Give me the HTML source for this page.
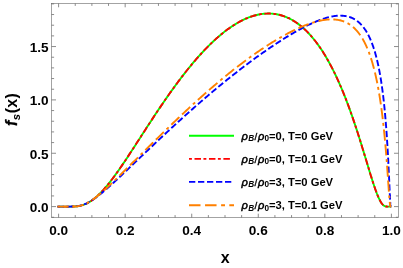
<!DOCTYPE html>
<html><head><meta charset="utf-8">
<style>
html,body{margin:0;padding:0;background:#fff;}
svg{display:block;will-change:transform;opacity:0.999;font-family:"Liberation Sans",sans-serif;}
.tk{font-size:13.6px;font-weight:bold;fill:#000;}
.lg{font-size:11.2px;font-weight:bold;fill:#000;}
.bi{font-style:italic;font-weight:bold;}
.rho{font-style:italic;font-weight:normal;stroke:#000;stroke-width:0.5;font-size:11.1px;}
.sl{font-size:9.8px;font-weight:normal;stroke:#000;stroke-width:0.35;}
.mn{stroke:none;}
.i{font-style:italic;}
.sub{font-size:8.2px;font-weight:bold;}
.ax{font-size:16px;font-weight:bold;fill:#000;}
.fr line{stroke:#666;stroke-width:0.75;}
.cv path, .cv line{fill:none;stroke-width:1.9;}
</style></head>
<body>
<svg width="403" height="268" viewBox="0 0 403 268">
<rect width="403" height="268" fill="#fff"/>
<g class="cv">
<path d="M57.5 206.6 L58.40 206.60 L59.40 206.60 L60.40 206.60 L61.41 206.60 L62.41 206.60 L63.41 206.60 L64.41 206.60 L65.41 206.60 L66.41 206.60 L67.42 206.60 L68.42 206.60 L69.42 206.60 L70.42 206.59 L71.42 206.58 L72.42 206.56 L73.43 206.52 L74.43 206.48 L75.43 206.41 L76.43 206.32 L77.43 206.21 L78.43 206.07 L79.44 205.90 L80.44 205.69 L81.44 205.45 L82.44 205.16 L83.44 204.84 L84.45 204.48 L85.45 204.07 L86.45 203.62 L87.45 203.13 L88.45 202.59 L89.45 202.01 L90.46 201.39 L91.46 200.73 L92.46 200.02 L93.46 199.28 L94.46 198.49 L95.46 197.66 L96.47 196.80 L97.47 195.90 L98.47 194.96 L99.47 193.99 L100.47 192.98 L101.47 191.94 L102.48 190.87 L103.48 189.77 L104.48 188.64 L105.48 187.49 L106.48 186.30 L107.49 185.09 L108.49 183.86 L109.49 182.60 L110.49 181.33 L111.49 180.03 L112.49 178.71 L113.50 177.37 L114.50 176.01 L115.50 174.64 L116.50 173.25 L117.50 171.85 L118.50 170.43 L119.51 169.00 L120.51 167.55 L121.51 166.10 L122.51 164.63 L123.51 163.15 L124.51 161.67 L125.52 160.17 L126.52 158.67 L127.52 157.16 L128.52 155.64 L129.52 154.12 L130.53 152.59 L131.53 151.06 L132.53 149.52 L133.53 147.98 L134.53 146.44 L135.53 144.90 L136.54 143.35 L137.54 141.80 L138.54 140.25 L139.54 138.70 L140.54 137.14 L141.54 135.59 L142.55 134.04 L143.55 132.49 L144.55 130.94 L145.55 129.40 L146.55 127.85 L147.55 126.31 L148.56 124.77 L149.56 123.23 L150.56 121.70 L151.56 120.17 L152.56 118.64 L153.57 117.12 L154.57 115.60 L155.57 114.09 L156.57 112.59 L157.57 111.08 L158.57 109.59 L159.58 108.10 L160.58 106.61 L161.58 105.13 L162.58 103.66 L163.58 102.20 L164.58 100.74 L165.59 99.29 L166.59 97.85 L167.59 96.41 L168.59 94.98 L169.59 93.56 L170.59 92.15 L171.60 90.74 L172.60 89.35 L173.60 87.96 L174.60 86.58 L175.60 85.21 L176.61 83.85 L177.61 82.50 L178.61 81.16 L179.61 79.82 L180.61 78.50 L181.61 77.18 L182.62 75.88 L183.62 74.59 L184.62 73.30 L185.62 72.03 L186.62 70.77 L187.62 69.51 L188.63 68.27 L189.63 67.04 L190.63 65.82 L191.63 64.61 L192.63 63.41 L193.63 62.22 L194.64 61.05 L195.64 59.88 L196.64 58.73 L197.64 57.59 L198.64 56.46 L199.65 55.34 L200.65 54.24 L201.65 53.14 L202.65 52.06 L203.65 50.99 L204.65 49.94 L205.66 48.89 L206.66 47.86 L207.66 46.84 L208.66 45.84 L209.66 44.85 L210.66 43.87 L211.67 42.90 L212.67 41.95 L213.67 41.01 L214.67 40.08 L215.67 39.17 L216.67 38.27 L217.68 37.39 L218.68 36.52 L219.68 35.66 L220.68 34.82 L221.68 33.99 L222.69 33.18 L223.69 32.38 L224.69 31.59 L225.69 30.82 L226.69 30.07 L227.69 29.33 L228.70 28.61 L229.70 27.90 L230.70 27.20 L231.70 26.52 L232.70 25.86 L233.70 25.21 L234.71 24.58 L235.71 23.97 L236.71 23.37 L237.71 22.78 L238.71 22.22 L239.71 21.67 L240.72 21.13 L241.72 20.62 L242.72 20.12 L243.72 19.63 L244.72 19.17 L245.73 18.72 L246.73 18.29 L247.73 17.88 L248.73 17.48 L249.73 17.10 L250.73 16.74 L251.74 16.40 L252.74 16.08 L253.74 15.77 L254.74 15.49 L255.74 15.22 L256.74 14.97 L257.75 14.74 L258.75 14.53 L259.75 14.34 L260.75 14.17 L261.75 14.02 L262.75 13.89 L263.76 13.78 L264.76 13.69 L265.76 13.63 L266.76 13.58 L267.76 13.55 L268.77 13.55 L269.77 13.56 L270.77 13.60 L271.77 13.66 L272.77 13.74 L273.77 13.84 L274.78 13.97 L275.78 14.12 L276.78 14.29 L277.78 14.48 L278.78 14.70 L279.78 14.94 L280.79 15.21 L281.79 15.50 L282.79 15.81 L283.79 16.15 L284.79 16.52 L285.79 16.90 L286.80 17.32 L287.80 17.76 L288.80 18.23 L289.80 18.72 L290.80 19.24 L291.81 19.78 L292.81 20.36 L293.81 20.96 L294.81 21.58 L295.81 22.24 L296.81 22.92 L297.82 23.64 L298.82 24.38 L299.82 25.15 L300.82 25.95 L301.82 26.78 L302.82 27.65 L303.83 28.54 L304.83 29.46 L305.83 30.42 L306.83 31.40 L307.83 32.42 L308.83 33.48 L309.84 34.56 L310.84 35.68 L311.84 36.83 L312.84 38.02 L313.84 39.24 L314.85 40.49 L315.85 41.78 L316.85 43.11 L317.85 44.47 L318.85 45.87 L319.85 47.31 L320.86 48.79 L321.86 50.30 L322.86 51.85 L323.86 53.44 L324.86 55.07 L325.86 56.74 L326.87 58.45 L327.87 60.20 L328.87 61.99 L329.87 63.83 L330.87 65.70 L331.87 67.62 L332.88 69.58 L333.88 71.59 L334.88 73.64 L335.88 75.73 L336.88 77.87 L337.89 80.06 L338.89 82.29 L339.89 84.56 L340.89 86.89 L341.89 89.25 L342.89 91.67 L343.90 94.13 L344.90 96.64 L345.90 99.20 L346.90 101.81 L347.90 104.46 L348.90 107.16 L349.91 109.91 L350.91 112.70 L351.91 115.54 L352.91 118.43 L353.91 121.36 L354.91 124.34 L355.92 127.36 L356.92 130.42 L357.92 133.52 L358.07 133.99 L358.22 134.46 L358.37 134.93 L358.52 135.40 L358.67 135.88 L358.82 136.35 L358.97 136.82 L359.12 137.30 L359.27 137.78 L359.43 138.25 L359.58 138.73 L359.73 139.21 L359.88 139.69 L360.03 140.17 L360.18 140.65 L360.33 141.13 L360.48 141.61 L360.63 142.10 L360.78 142.58 L360.93 143.06 L361.08 143.55 L361.23 144.03 L361.38 144.52 L361.53 145.01 L361.68 145.49 L361.83 145.98 L361.98 146.47 L362.13 146.96 L362.28 147.45 L362.44 147.94 L362.59 148.43 L362.74 148.92 L362.89 149.42 L363.04 149.91 L363.19 150.40 L363.34 150.89 L363.49 151.39 L363.64 151.88 L363.79 152.38 L363.94 152.87 L364.09 153.37 L364.24 153.86 L364.39 154.36 L364.54 154.86 L364.69 155.35 L364.84 155.85 L364.99 156.35 L365.14 156.85 L365.30 157.34 L365.45 157.84 L365.60 158.34 L365.75 158.84 L365.90 159.34 L366.05 159.84 L366.20 160.33 L366.35 160.83 L366.50 161.33 L366.65 161.83 L366.80 162.33 L366.95 162.83 L367.10 163.33 L367.25 163.83 L367.40 164.32 L367.55 164.82 L367.70 165.32 L367.85 165.82 L368.00 166.31 L368.15 166.81 L368.31 167.31 L368.46 167.80 L368.61 168.30 L368.76 168.80 L368.91 169.29 L369.06 169.79 L369.21 170.28 L369.36 170.77 L369.51 171.27 L369.66 171.76 L369.81 172.25 L369.96 172.74 L370.11 173.23 L370.26 173.72 L370.41 174.21 L370.56 174.69 L370.71 175.18 L370.86 175.66 L371.01 176.15 L371.17 176.63 L371.32 177.11 L371.47 177.59 L371.62 178.07 L371.77 178.55 L371.92 179.02 L372.07 179.50 L372.22 179.97 L372.37 180.44 L372.52 180.91 L372.67 181.38 L372.82 181.85 L372.97 182.31 L373.12 182.78 L373.27 183.24 L373.42 183.69 L373.57 184.15 L373.72 184.61 L373.87 185.06 L374.02 185.51 L374.18 185.96 L374.33 186.40 L374.48 186.84 L374.63 187.28 L374.78 187.72 L374.93 188.15 L375.08 188.59 L375.23 189.01 L375.38 189.44 L375.53 189.86 L375.68 190.28 L375.83 190.70 L375.98 191.11 L376.13 191.52 L376.28 191.92 L376.43 192.33 L376.58 192.72 L376.73 193.12 L376.88 193.51 L377.04 193.90 L377.19 194.28 L377.34 194.66 L377.49 195.03 L377.64 195.40 L377.79 195.76 L377.94 196.12 L378.09 196.48 L378.24 196.83 L378.39 197.17 L378.54 197.51 L378.69 197.85 L378.84 198.18 L378.99 198.50 L379.14 198.82 L379.29 199.14 L379.44 199.45 L379.59 199.75 L379.74 200.04 L379.89 200.33 L380.05 200.62 L380.20 200.90 L380.35 201.17 L380.50 201.43 L380.65 201.69 L380.80 201.94 L380.95 202.19 L381.10 202.43 L381.25 202.66 L381.40 202.89 L381.55 203.11 L381.70 203.32 L381.85 203.52 L382.00 203.72 L382.15 203.91 L382.30 204.09 L382.45 204.27 L382.60 204.44 L382.75 204.60 L382.91 204.75 L383.06 204.90 L383.21 205.04 L383.36 205.17 L383.51 205.30 L383.66 205.42 L383.81 205.53 L383.96 205.64 L384.11 205.73 L384.26 205.83 L384.41 205.91 L384.56 205.99 L384.71 206.06 L384.86 206.13 L385.01 206.19 L385.16 206.25 L385.31 206.30 L385.46 206.34 L385.61 206.38 L385.76 206.42 L385.92 206.45 L386.07 206.48 L386.22 206.50 L386.37 206.52 L386.52 206.54 L386.67 206.55 L386.82 206.56 L386.97 206.57 L387.12 206.58 L387.27 206.58 L387.42 206.59 L387.57 206.59 L387.72 206.60 L387.87 206.60 L387.89 206.60 L387.91 206.60 L387.92 206.60 L387.94 206.60 L387.96 206.60 L387.97 206.60 L387.99 206.60 L388.01 206.60 L388.02 206.60 L388.04 206.60 L388.06 206.60 L388.07 206.60 L388.09 206.60 L388.11 206.60 L388.12 206.60 L388.14 206.60 L388.16 206.60 L388.17 206.60 L388.19 206.60 L388.21 206.60 L388.22 206.60 L388.24 206.60 L388.26 206.60 L388.27 206.60 L388.29 206.60 L388.31 206.60 L388.32 206.60 L388.34 206.60 L388.36 206.60 L388.37 206.60 L388.39 206.60 L388.41 206.60 L388.42 206.60 L388.44 206.60 L388.46 206.60 L388.47 206.60 L388.49 206.60 L388.51 206.60 L388.52 206.60 L388.54 206.60 L388.56 206.60 L388.57 206.60 L388.59 206.60 L388.61 206.60 L388.62 206.60 L388.64 206.60 L388.66 206.60 L388.67 206.60 L388.69 206.60 L388.71 206.60 L388.72 206.60 L388.74 206.60 L388.76 206.60 L388.78 206.60 L388.79 206.60 L388.81 206.60 L388.83 206.60 L388.84 206.60 L388.86 206.60 L388.88 206.60 L388.89 206.60 L388.91 206.60 L388.93 206.60 L388.94 206.60 L388.96 206.60 L388.98 206.60 L388.99 206.60 L389.01 206.60 L389.03 206.60 L389.04 206.60 L389.06 206.60 L389.08 206.60 L389.09 206.60 L389.11 206.60 L389.13 206.60 L389.14 206.60 L389.16 206.60 L389.18 206.60 L389.19 206.60 L389.21 206.60 L389.23 206.60 L389.24 206.60 L389.26 206.60 L389.28 206.60 L389.29 206.60 L389.31 206.60 L389.33 206.60 L389.34 206.60 L389.36 206.60 L389.38 206.60 L389.39 206.60 L389.41 206.60 L389.43 206.60 L389.44 206.60 L389.46 206.60 L389.48 206.60 L389.49 206.60 L389.51 206.60 L389.53 206.60 L389.54 206.60 L389.56 206.60 L389.58 206.60 L389.59 206.60 L389.61 206.60 L389.63 206.60 L389.64 206.60 L389.66 206.60 L389.68 206.60 L389.69 206.60 L389.71 206.60 L389.73 206.60 L389.75 206.60 L389.76 206.60 L389.78 206.60 L389.80 206.60 L389.81 206.60 L389.83 206.60 L389.85 206.60 L389.86 206.60 L389.88 206.60 L389.90 206.60 L389.91 206.60 L389.93 206.60 L389.95 206.60 L389.96 206.60 L389.98 206.60 L390.00 206.60 L390.01 206.60 L390.03 206.60 L390.05 206.60 L390.06 206.60 L390.08 206.60 L390.10 206.60 L390.11 206.60 L390.13 206.60 L390.15 206.60 L390.16 206.60 L390.18 206.60 L390.20 206.60 L390.21 206.60 L390.23 206.60 L390.25 206.60 L390.26 206.60 L390.28 206.60 L390.30 206.60 L390.31 206.60 L390.33 206.60 L390.35 206.60 L390.36 206.60 L390.38 206.60 L390.40 206.60 L390.41 206.60 L390.43 206.60 L390.45 206.60 L390.46 206.60 L390.48 206.60 L390.50 206.60 L390.51 206.60 L390.53 206.60 L390.55 206.60 L390.56 206.60 L390.58 206.60 L390.60 206.60 L390.61 206.60 L390.63 206.60 L390.65 206.60 L390.66 206.60 L390.68 206.60 L390.70 206.60 L390.72 206.60 L390.73 206.60 L390.75 206.60 L390.77 206.60 L390.78 206.60 L390.80 206.60 L390.82 206.60 L390.83 206.60 L390.85 206.60 L390.87 206.60 L390.88 206.60 L390.90 206.60 L390.92 206.60 L390.93 206.60 L390.95 206.60 L390.97 206.60 L390.98 206.60 L391.00 206.60 L391.02 206.60 L391.03 206.60 L391.05 206.60 L391.07 206.60 L391.08 206.60 L391.10 206.60 L391.12 206.60 L391.13 206.60 L391.15 206.60 L391.17 206.60 L391.18 206.60 L391.20 206.60" stroke="#00ff00"/>
<path d="M57.5 206.6 L58.40 206.60 L59.40 206.60 L60.40 206.60 L61.41 206.60 L62.41 206.60 L63.41 206.60 L64.41 206.60 L65.41 206.60 L66.41 206.60 L67.42 206.60 L68.42 206.60 L69.42 206.60 L70.42 206.59 L71.42 206.58 L72.42 206.56 L73.43 206.52 L74.43 206.48 L75.43 206.41 L76.43 206.32 L77.43 206.21 L78.43 206.07 L79.44 205.90 L80.44 205.69 L81.44 205.45 L82.44 205.16 L83.44 204.84 L84.45 204.48 L85.45 204.07 L86.45 203.62 L87.45 203.13 L88.45 202.59 L89.45 202.01 L90.46 201.39 L91.46 200.73 L92.46 200.02 L93.46 199.28 L94.46 198.49 L95.46 197.66 L96.47 196.80 L97.47 195.90 L98.47 194.96 L99.47 193.99 L100.47 192.98 L101.47 191.94 L102.48 190.87 L103.48 189.77 L104.48 188.64 L105.48 187.49 L106.48 186.30 L107.49 185.09 L108.49 183.86 L109.49 182.60 L110.49 181.33 L111.49 180.03 L112.49 178.71 L113.50 177.37 L114.50 176.01 L115.50 174.64 L116.50 173.25 L117.50 171.85 L118.50 170.43 L119.51 169.00 L120.51 167.55 L121.51 166.10 L122.51 164.63 L123.51 163.15 L124.51 161.67 L125.52 160.17 L126.52 158.67 L127.52 157.16 L128.52 155.64 L129.52 154.12 L130.53 152.59 L131.53 151.06 L132.53 149.52 L133.53 147.98 L134.53 146.44 L135.53 144.90 L136.54 143.35 L137.54 141.80 L138.54 140.25 L139.54 138.70 L140.54 137.14 L141.54 135.59 L142.55 134.04 L143.55 132.49 L144.55 130.94 L145.55 129.40 L146.55 127.85 L147.55 126.31 L148.56 124.77 L149.56 123.23 L150.56 121.70 L151.56 120.17 L152.56 118.64 L153.57 117.12 L154.57 115.60 L155.57 114.09 L156.57 112.59 L157.57 111.08 L158.57 109.59 L159.58 108.10 L160.58 106.61 L161.58 105.13 L162.58 103.66 L163.58 102.20 L164.58 100.74 L165.59 99.29 L166.59 97.85 L167.59 96.41 L168.59 94.98 L169.59 93.56 L170.59 92.15 L171.60 90.74 L172.60 89.35 L173.60 87.96 L174.60 86.58 L175.60 85.21 L176.61 83.85 L177.61 82.50 L178.61 81.16 L179.61 79.82 L180.61 78.50 L181.61 77.18 L182.62 75.88 L183.62 74.59 L184.62 73.30 L185.62 72.03 L186.62 70.77 L187.62 69.51 L188.63 68.27 L189.63 67.04 L190.63 65.82 L191.63 64.61 L192.63 63.41 L193.63 62.22 L194.64 61.05 L195.64 59.88 L196.64 58.73 L197.64 57.59 L198.64 56.46 L199.65 55.34 L200.65 54.24 L201.65 53.14 L202.65 52.06 L203.65 50.99 L204.65 49.94 L205.66 48.89 L206.66 47.86 L207.66 46.84 L208.66 45.84 L209.66 44.85 L210.66 43.87 L211.67 42.90 L212.67 41.95 L213.67 41.01 L214.67 40.08 L215.67 39.17 L216.67 38.27 L217.68 37.39 L218.68 36.52 L219.68 35.66 L220.68 34.82 L221.68 33.99 L222.69 33.18 L223.69 32.38 L224.69 31.59 L225.69 30.82 L226.69 30.07 L227.69 29.33 L228.70 28.61 L229.70 27.90 L230.70 27.20 L231.70 26.52 L232.70 25.86 L233.70 25.21 L234.71 24.58 L235.71 23.97 L236.71 23.37 L237.71 22.78 L238.71 22.22 L239.71 21.67 L240.72 21.13 L241.72 20.62 L242.72 20.12 L243.72 19.63 L244.72 19.17 L245.73 18.72 L246.73 18.29 L247.73 17.88 L248.73 17.48 L249.73 17.10 L250.73 16.74 L251.74 16.40 L252.74 16.08 L253.74 15.77 L254.74 15.49 L255.74 15.22 L256.74 14.97 L257.75 14.74 L258.75 14.53 L259.75 14.34 L260.75 14.17 L261.75 14.02 L262.75 13.89 L263.76 13.78 L264.76 13.69 L265.76 13.63 L266.76 13.58 L267.76 13.55 L268.77 13.55 L269.77 13.56 L270.77 13.60 L271.77 13.66 L272.77 13.74 L273.77 13.84 L274.78 13.97 L275.78 14.12 L276.78 14.29 L277.78 14.48 L278.78 14.70 L279.78 14.94 L280.79 15.21 L281.79 15.50 L282.79 15.81 L283.79 16.15 L284.79 16.52 L285.79 16.90 L286.80 17.32 L287.80 17.76 L288.80 18.23 L289.80 18.72 L290.80 19.24 L291.81 19.78 L292.81 20.36 L293.81 20.96 L294.81 21.58 L295.81 22.24 L296.81 22.92 L297.82 23.64 L298.82 24.38 L299.82 25.15 L300.82 25.95 L301.82 26.78 L302.82 27.65 L303.83 28.54 L304.83 29.46 L305.83 30.42 L306.83 31.40 L307.83 32.42 L308.83 33.48 L309.84 34.56 L310.84 35.68 L311.84 36.83 L312.84 38.02 L313.84 39.24 L314.85 40.49 L315.85 41.78 L316.85 43.11 L317.85 44.47 L318.85 45.87 L319.85 47.31 L320.86 48.79 L321.86 50.30 L322.86 51.85 L323.86 53.44 L324.86 55.07 L325.86 56.74 L326.87 58.45 L327.87 60.20 L328.87 61.99 L329.87 63.83 L330.87 65.70 L331.87 67.62 L332.88 69.58 L333.88 71.59 L334.88 73.64 L335.88 75.73 L336.88 77.87 L337.89 80.06 L338.89 82.29 L339.89 84.56 L340.89 86.89 L341.89 89.25 L342.89 91.67 L343.90 94.13 L344.90 96.64 L345.90 99.20 L346.90 101.81 L347.90 104.46 L348.90 107.16 L349.91 109.91 L350.91 112.70 L351.91 115.54 L352.91 118.43 L353.91 121.36 L354.91 124.34 L355.92 127.36 L356.92 130.42 L357.92 133.52 L358.07 133.99 L358.22 134.46 L358.37 134.93 L358.52 135.40 L358.67 135.88 L358.82 136.35 L358.97 136.82 L359.12 137.30 L359.27 137.78 L359.43 138.25 L359.58 138.73 L359.73 139.21 L359.88 139.69 L360.03 140.17 L360.18 140.65 L360.33 141.13 L360.48 141.61 L360.63 142.10 L360.78 142.58 L360.93 143.06 L361.08 143.55 L361.23 144.03 L361.38 144.52 L361.53 145.01 L361.68 145.49 L361.83 145.98 L361.98 146.47 L362.13 146.96 L362.28 147.45 L362.44 147.94 L362.59 148.43 L362.74 148.92 L362.89 149.42 L363.04 149.91 L363.19 150.40 L363.34 150.89 L363.49 151.39 L363.64 151.88 L363.79 152.38 L363.94 152.87 L364.09 153.37 L364.24 153.86 L364.39 154.36 L364.54 154.86 L364.69 155.35 L364.84 155.85 L364.99 156.35 L365.14 156.85 L365.30 157.34 L365.45 157.84 L365.60 158.34 L365.75 158.84 L365.90 159.34 L366.05 159.84 L366.20 160.33 L366.35 160.83 L366.50 161.33 L366.65 161.83 L366.80 162.33 L366.95 162.83 L367.10 163.33 L367.25 163.83 L367.40 164.32 L367.55 164.82 L367.70 165.32 L367.85 165.82 L368.00 166.31 L368.15 166.81 L368.31 167.31 L368.46 167.80 L368.61 168.30 L368.76 168.80 L368.91 169.29 L369.06 169.79 L369.21 170.28 L369.36 170.77 L369.51 171.27 L369.66 171.76 L369.81 172.25 L369.96 172.74 L370.11 173.23 L370.26 173.72 L370.41 174.21 L370.56 174.69 L370.71 175.18 L370.86 175.66 L371.01 176.15 L371.17 176.63 L371.32 177.11 L371.47 177.59 L371.62 178.07 L371.77 178.55 L371.92 179.02 L372.07 179.50 L372.22 179.97 L372.37 180.44 L372.52 180.91 L372.67 181.38 L372.82 181.85 L372.97 182.31 L373.12 182.78 L373.27 183.24 L373.42 183.69 L373.57 184.15 L373.72 184.61 L373.87 185.06 L374.02 185.51 L374.18 185.96 L374.33 186.40 L374.48 186.84 L374.63 187.28 L374.78 187.72 L374.93 188.15 L375.08 188.59 L375.23 189.01 L375.38 189.44 L375.53 189.86 L375.68 190.28 L375.83 190.70 L375.98 191.11 L376.13 191.52 L376.28 191.92 L376.43 192.33 L376.58 192.72 L376.73 193.12 L376.88 193.51 L377.04 193.90 L377.19 194.28 L377.34 194.66 L377.49 195.03 L377.64 195.40 L377.79 195.76 L377.94 196.12 L378.09 196.48 L378.24 196.83 L378.39 197.17 L378.54 197.51 L378.69 197.85 L378.84 198.18 L378.99 198.50 L379.14 198.82 L379.29 199.14 L379.44 199.45 L379.59 199.75 L379.74 200.04 L379.89 200.33 L380.05 200.62 L380.20 200.90 L380.35 201.17 L380.50 201.43 L380.65 201.69 L380.80 201.94 L380.95 202.19 L381.10 202.43 L381.25 202.66 L381.40 202.89 L381.55 203.11 L381.70 203.32 L381.85 203.52 L382.00 203.72 L382.15 203.91 L382.30 204.09 L382.45 204.27 L382.60 204.44 L382.75 204.60 L382.91 204.75 L383.06 204.90 L383.21 205.04 L383.36 205.17 L383.51 205.30 L383.66 205.42 L383.81 205.53 L383.96 205.64 L384.11 205.73 L384.26 205.83 L384.41 205.91 L384.56 205.99 L384.71 206.06 L384.86 206.13 L385.01 206.19 L385.16 206.25 L385.31 206.30 L385.46 206.34 L385.61 206.38 L385.76 206.42 L385.92 206.45 L386.07 206.48 L386.22 206.50 L386.37 206.52 L386.52 206.54 L386.67 206.55 L386.82 206.56 L386.97 206.57 L387.12 206.58 L387.27 206.58 L387.42 206.59 L387.57 206.59 L387.72 206.60 L387.87 206.60 L387.89 206.60 L387.91 206.60 L387.92 206.60 L387.94 206.60 L387.96 206.60 L387.97 206.60 L387.99 206.60 L388.01 206.60 L388.02 206.60 L388.04 206.60 L388.06 206.60 L388.07 206.60 L388.09 206.60 L388.11 206.60 L388.12 206.60 L388.14 206.60 L388.16 206.60 L388.17 206.60 L388.19 206.60 L388.21 206.60 L388.22 206.60 L388.24 206.60 L388.26 206.60 L388.27 206.60 L388.29 206.60 L388.31 206.60 L388.32 206.60 L388.34 206.60 L388.36 206.60 L388.37 206.60 L388.39 206.60 L388.41 206.60 L388.42 206.60 L388.44 206.60 L388.46 206.60 L388.47 206.60 L388.49 206.60 L388.51 206.60 L388.52 206.60 L388.54 206.60 L388.56 206.60 L388.57 206.60 L388.59 206.60 L388.61 206.60 L388.62 206.60 L388.64 206.60 L388.66 206.60 L388.67 206.60 L388.69 206.60 L388.71 206.60 L388.72 206.60 L388.74 206.60 L388.76 206.60 L388.78 206.60 L388.79 206.60 L388.81 206.60 L388.83 206.60 L388.84 206.60 L388.86 206.60 L388.88 206.60 L388.89 206.60 L388.91 206.60 L388.93 206.60 L388.94 206.60 L388.96 206.60 L388.98 206.60 L388.99 206.60 L389.01 206.60 L389.03 206.60 L389.04 206.60 L389.06 206.60 L389.08 206.60 L389.09 206.60 L389.11 206.60 L389.13 206.60 L389.14 206.60 L389.16 206.60 L389.18 206.60 L389.19 206.60 L389.21 206.60 L389.23 206.60 L389.24 206.60 L389.26 206.60 L389.28 206.60 L389.29 206.60 L389.31 206.60 L389.33 206.60 L389.34 206.60 L389.36 206.60 L389.38 206.60 L389.39 206.60 L389.41 206.60 L389.43 206.60 L389.44 206.60 L389.46 206.60 L389.48 206.60 L389.49 206.60 L389.51 206.60 L389.53 206.60 L389.54 206.60 L389.56 206.60 L389.58 206.60 L389.59 206.60 L389.61 206.60 L389.63 206.60 L389.64 206.60 L389.66 206.60 L389.68 206.60 L389.69 206.60 L389.71 206.60 L389.73 206.60 L389.75 206.60 L389.76 206.60 L389.78 206.60 L389.80 206.60 L389.81 206.60 L389.83 206.60 L389.85 206.60 L389.86 206.60 L389.88 206.60 L389.90 206.60 L389.91 206.60 L389.93 206.60 L389.95 206.60 L389.96 206.60 L389.98 206.60 L390.00 206.60 L390.01 206.60 L390.03 206.60 L390.05 206.60 L390.06 206.60 L390.08 206.60 L390.10 206.60 L390.11 206.60 L390.13 206.60 L390.15 206.60 L390.16 206.60 L390.18 206.60 L390.20 206.60 L390.21 206.60 L390.23 206.60 L390.25 206.60 L390.26 206.60 L390.28 206.60 L390.30 206.60 L390.31 206.60 L390.33 206.60 L390.35 206.60 L390.36 206.60 L390.38 206.60 L390.40 206.60 L390.41 206.60 L390.43 206.60 L390.45 206.60 L390.46 206.60 L390.48 206.60 L390.50 206.60 L390.51 206.60 L390.53 206.60 L390.55 206.60 L390.56 206.60 L390.58 206.60 L390.60 206.60 L390.61 206.60 L390.63 206.60 L390.65 206.60 L390.66 206.60 L390.68 206.60 L390.70 206.60 L390.72 206.60 L390.73 206.60 L390.75 206.60 L390.77 206.60 L390.78 206.60 L390.80 206.60 L390.82 206.60 L390.83 206.60 L390.85 206.60 L390.87 206.60 L390.88 206.60 L390.90 206.60 L390.92 206.60 L390.93 206.60 L390.95 206.60 L390.97 206.60 L390.98 206.60 L391.00 206.60 L391.02 206.60 L391.03 206.60 L391.05 206.60 L391.07 206.60 L391.08 206.60 L391.10 206.60 L391.12 206.60 L391.13 206.60 L391.15 206.60 L391.17 206.60 L391.18 206.60 L391.20 206.60" stroke="#ff0000" stroke-dasharray="2.9 2.63 6.52 2.475" stroke-dashoffset="0.37"/>
<path d="M57.5 206.6 L58.40 206.60 L59.40 206.60 L60.40 206.60 L61.41 206.60 L62.41 206.60 L63.41 206.60 L64.41 206.60 L65.41 206.60 L66.41 206.60 L67.42 206.60 L68.42 206.60 L69.42 206.59 L70.42 206.59 L71.42 206.57 L72.42 206.55 L73.43 206.51 L74.43 206.45 L75.43 206.37 L76.43 206.26 L77.43 206.12 L78.43 205.95 L79.44 205.75 L80.44 205.51 L81.44 205.23 L82.44 204.92 L83.44 204.57 L84.45 204.19 L85.45 203.76 L86.45 203.31 L87.45 202.82 L88.45 202.29 L89.45 201.74 L90.46 201.16 L91.46 200.54 L92.46 199.91 L93.46 199.24 L94.46 198.56 L95.46 197.85 L96.47 197.12 L97.47 196.38 L98.47 195.61 L99.47 194.83 L100.47 194.04 L101.47 193.23 L102.48 192.40 L103.48 191.57 L104.48 190.72 L105.48 189.86 L106.48 188.99 L107.49 188.12 L108.49 187.23 L109.49 186.34 L110.49 185.45 L111.49 184.54 L112.49 183.63 L113.50 182.72 L114.50 181.80 L115.50 180.87 L116.50 179.94 L117.50 179.01 L118.50 178.08 L119.51 177.14 L120.51 176.20 L121.51 175.25 L122.51 174.31 L123.51 173.36 L124.51 172.41 L125.52 171.46 L126.52 170.51 L127.52 169.56 L128.52 168.60 L129.52 167.65 L130.53 166.69 L131.53 165.74 L132.53 164.78 L133.53 163.83 L134.53 162.87 L135.53 161.91 L136.54 160.96 L137.54 160.00 L138.54 159.04 L139.54 158.09 L140.54 157.13 L141.54 156.18 L142.55 155.22 L143.55 154.27 L144.55 153.31 L145.55 152.36 L146.55 151.41 L147.55 150.45 L148.56 149.50 L149.56 148.55 L150.56 147.60 L151.56 146.65 L152.56 145.71 L153.57 144.76 L154.57 143.81 L155.57 142.87 L156.57 141.93 L157.57 140.98 L158.57 140.04 L159.58 139.10 L160.58 138.16 L161.58 137.23 L162.58 136.29 L163.58 135.35 L164.58 134.42 L165.59 133.49 L166.59 132.56 L167.59 131.63 L168.59 130.70 L169.59 129.77 L170.59 128.85 L171.60 127.92 L172.60 127.00 L173.60 126.08 L174.60 125.16 L175.60 124.24 L176.61 123.33 L177.61 122.41 L178.61 121.50 L179.61 120.59 L180.61 119.68 L181.61 118.78 L182.62 117.87 L183.62 116.97 L184.62 116.06 L185.62 115.16 L186.62 114.27 L187.62 113.37 L188.63 112.48 L189.63 111.58 L190.63 110.69 L191.63 109.80 L192.63 108.92 L193.63 108.03 L194.64 107.15 L195.64 106.27 L196.64 105.39 L197.64 104.51 L198.64 103.64 L199.65 102.77 L200.65 101.90 L201.65 101.03 L202.65 100.16 L203.65 99.30 L204.65 98.44 L205.66 97.58 L206.66 96.72 L207.66 95.87 L208.66 95.02 L209.66 94.17 L210.66 93.32 L211.67 92.47 L212.67 91.63 L213.67 90.79 L214.67 89.95 L215.67 89.12 L216.67 88.28 L217.68 87.45 L218.68 86.62 L219.68 85.80 L220.68 84.97 L221.68 84.15 L222.69 83.33 L223.69 82.52 L224.69 81.70 L225.69 80.89 L226.69 80.09 L227.69 79.28 L228.70 78.48 L229.70 77.67 L230.70 76.88 L231.70 76.08 L232.70 75.29 L233.70 74.50 L234.71 73.71 L235.71 72.93 L236.71 72.14 L237.71 71.36 L238.71 70.59 L239.71 69.81 L240.72 69.04 L241.72 68.27 L242.72 67.51 L243.72 66.74 L244.72 65.98 L245.73 65.23 L246.73 64.47 L247.73 63.72 L248.73 62.97 L249.73 62.23 L250.73 61.48 L251.74 60.74 L252.74 60.01 L253.74 59.27 L254.74 58.54 L255.74 57.82 L256.74 57.09 L257.75 56.37 L258.75 55.65 L259.75 54.93 L260.75 54.22 L261.75 53.51 L262.75 52.81 L263.76 52.10 L264.76 51.41 L265.76 50.71 L266.76 50.02 L267.76 49.33 L268.77 48.64 L269.77 47.96 L270.77 47.28 L271.77 46.60 L272.77 45.93 L273.77 45.26 L274.78 44.60 L275.78 43.94 L276.78 43.28 L277.78 42.63 L278.78 41.98 L279.78 41.33 L280.79 40.69 L281.79 40.05 L282.79 39.42 L283.79 38.79 L284.79 38.17 L285.79 37.55 L286.80 36.93 L287.80 36.32 L288.80 35.71 L289.80 35.11 L290.80 34.52 L291.81 33.92 L292.81 33.34 L293.81 32.76 L294.81 32.18 L295.81 31.61 L296.81 31.04 L297.82 30.48 L298.82 29.93 L299.82 29.38 L300.82 28.84 L301.82 28.31 L302.82 27.78 L303.83 27.26 L304.83 26.74 L305.83 26.23 L306.83 25.73 L307.83 25.24 L308.83 24.75 L309.84 24.28 L310.84 23.81 L311.84 23.35 L312.84 22.90 L313.84 22.45 L314.85 22.02 L315.85 21.60 L316.85 21.19 L317.85 20.78 L318.85 20.39 L319.85 20.01 L320.86 19.65 L321.86 19.29 L322.86 18.95 L323.86 18.62 L324.86 18.30 L325.86 18.00 L326.87 17.71 L327.87 17.44 L328.87 17.18 L329.87 16.94 L330.87 16.72 L331.87 16.52 L332.88 16.33 L333.88 16.17 L334.88 16.02 L335.88 15.90 L336.88 15.80 L337.89 15.73 L338.89 15.67 L339.89 15.65 L340.89 15.65 L341.89 15.68 L342.89 15.74 L343.90 15.83 L344.90 15.96 L345.90 16.12 L346.90 16.31 L347.90 16.55 L348.90 16.83 L349.91 17.15 L350.91 17.51 L351.91 17.92 L352.91 18.39 L353.91 18.90 L354.91 19.48 L355.92 20.11 L356.92 20.81 L357.92 21.58 L358.07 21.70 L358.22 21.83 L358.37 21.95 L358.52 22.08 L358.67 22.21 L358.82 22.34 L358.97 22.47 L359.12 22.60 L359.27 22.74 L359.43 22.88 L359.58 23.01 L359.73 23.16 L359.88 23.30 L360.03 23.44 L360.18 23.59 L360.33 23.74 L360.48 23.89 L360.63 24.04 L360.78 24.20 L360.93 24.35 L361.08 24.51 L361.23 24.67 L361.38 24.83 L361.53 25.00 L361.68 25.16 L361.83 25.33 L361.98 25.50 L362.13 25.68 L362.28 25.85 L362.44 26.03 L362.59 26.21 L362.74 26.39 L362.89 26.58 L363.04 26.76 L363.19 26.95 L363.34 27.15 L363.49 27.34 L363.64 27.54 L363.79 27.73 L363.94 27.94 L364.09 28.14 L364.24 28.35 L364.39 28.56 L364.54 28.77 L364.69 28.98 L364.84 29.20 L364.99 29.42 L365.14 29.64 L365.30 29.86 L365.45 30.09 L365.60 30.32 L365.75 30.56 L365.90 30.79 L366.05 31.03 L366.20 31.28 L366.35 31.52 L366.50 31.77 L366.65 32.02 L366.80 32.28 L366.95 32.53 L367.10 32.79 L367.25 33.06 L367.40 33.33 L367.55 33.60 L367.70 33.87 L367.85 34.15 L368.00 34.43 L368.15 34.71 L368.31 35.00 L368.46 35.29 L368.61 35.59 L368.76 35.89 L368.91 36.19 L369.06 36.50 L369.21 36.81 L369.36 37.12 L369.51 37.44 L369.66 37.76 L369.81 38.09 L369.96 38.42 L370.11 38.75 L370.26 39.09 L370.41 39.43 L370.56 39.78 L370.71 40.13 L370.86 40.49 L371.01 40.85 L371.17 41.22 L371.32 41.59 L371.47 41.96 L371.62 42.34 L371.77 42.72 L371.92 43.11 L372.07 43.51 L372.22 43.91 L372.37 44.31 L372.52 44.72 L372.67 45.14 L372.82 45.56 L372.97 45.99 L373.12 46.42 L373.27 46.86 L373.42 47.30 L373.57 47.75 L373.72 48.20 L373.87 48.67 L374.02 49.13 L374.18 49.61 L374.33 50.09 L374.48 50.58 L374.63 51.07 L374.78 51.57 L374.93 52.08 L375.08 52.59 L375.23 53.11 L375.38 53.64 L375.53 54.18 L375.68 54.72 L375.83 55.27 L375.98 55.83 L376.13 56.40 L376.28 56.98 L376.43 57.56 L376.58 58.15 L376.73 58.75 L376.88 59.36 L377.04 59.98 L377.19 60.61 L377.34 61.25 L377.49 61.89 L377.64 62.55 L377.79 63.22 L377.94 63.89 L378.09 64.58 L378.24 65.28 L378.39 65.98 L378.54 66.70 L378.69 67.43 L378.84 68.18 L378.99 68.93 L379.14 69.69 L379.29 70.47 L379.44 71.26 L379.59 72.07 L379.74 72.88 L379.89 73.71 L380.05 74.56 L380.20 75.42 L380.35 76.29 L380.50 77.18 L380.65 78.08 L380.80 79.00 L380.95 79.94 L381.10 80.89 L381.25 81.86 L381.40 82.85 L381.55 83.85 L381.70 84.88 L381.85 85.92 L382.00 86.98 L382.15 88.07 L382.30 89.17 L382.45 90.29 L382.60 91.44 L382.75 92.61 L382.91 93.80 L383.06 95.02 L383.21 96.26 L383.36 97.53 L383.51 98.83 L383.66 100.15 L383.81 101.50 L383.96 102.88 L384.11 104.29 L384.26 105.73 L384.41 107.21 L384.56 108.71 L384.71 110.26 L384.86 111.84 L385.01 113.45 L385.16 115.11 L385.31 116.81 L385.46 118.55 L385.61 120.33 L385.76 122.16 L385.92 124.03 L386.07 125.96 L386.22 127.93 L386.37 129.96 L386.52 132.05 L386.67 134.19 L386.82 136.39 L386.97 138.65 L387.12 140.98 L387.27 143.38 L387.42 145.84 L387.57 148.38 L387.72 150.99 L387.87 153.67 L387.89 153.97 L387.91 154.28 L387.92 154.58 L387.94 154.89 L387.96 155.20 L387.97 155.50 L387.99 155.81 L388.01 156.12 L388.02 156.43 L388.04 156.75 L388.06 157.06 L388.07 157.37 L388.09 157.69 L388.11 158.00 L388.12 158.32 L388.14 158.64 L388.16 158.96 L388.17 159.28 L388.19 159.60 L388.21 159.92 L388.22 160.24 L388.24 160.56 L388.26 160.89 L388.27 161.22 L388.29 161.54 L388.31 161.87 L388.32 162.20 L388.34 162.53 L388.36 162.86 L388.37 163.19 L388.39 163.52 L388.41 163.86 L388.42 164.19 L388.44 164.53 L388.46 164.86 L388.47 165.20 L388.49 165.54 L388.51 165.88 L388.52 166.22 L388.54 166.56 L388.56 166.90 L388.57 167.24 L388.59 167.59 L388.61 167.93 L388.62 168.28 L388.64 168.62 L388.66 168.97 L388.67 169.32 L388.69 169.67 L388.71 170.02 L388.72 170.37 L388.74 170.72 L388.76 171.08 L388.78 171.43 L388.79 171.79 L388.81 172.14 L388.83 172.50 L388.84 172.86 L388.86 173.21 L388.88 173.57 L388.89 173.93 L388.91 174.29 L388.93 174.65 L388.94 175.02 L388.96 175.38 L388.98 175.74 L388.99 176.11 L389.01 176.47 L389.03 176.84 L389.04 177.20 L389.06 177.57 L389.08 177.93 L389.09 178.30 L389.11 178.67 L389.13 179.04 L389.14 179.41 L389.16 179.78 L389.18 180.15 L389.19 180.52 L389.21 180.89 L389.23 181.26 L389.24 181.63 L389.26 182.01 L389.28 182.38 L389.29 182.75 L389.31 183.12 L389.33 183.50 L389.34 183.87 L389.36 184.24 L389.38 184.61 L389.39 184.99 L389.41 185.36 L389.43 185.73 L389.44 186.11 L389.46 186.48 L389.48 186.85 L389.49 187.22 L389.51 187.59 L389.53 187.97 L389.54 188.34 L389.56 188.71 L389.58 189.07 L389.59 189.44 L389.61 189.81 L389.63 190.18 L389.64 190.54 L389.66 190.91 L389.68 191.27 L389.69 191.64 L389.71 192.00 L389.73 192.36 L389.75 192.72 L389.76 193.07 L389.78 193.43 L389.80 193.78 L389.81 194.13 L389.83 194.48 L389.85 194.83 L389.86 195.18 L389.88 195.52 L389.90 195.86 L389.91 196.20 L389.93 196.54 L389.95 196.87 L389.96 197.20 L389.98 197.53 L390.00 197.85 L390.01 198.17 L390.03 198.49 L390.05 198.80 L390.06 199.11 L390.08 199.41 L390.10 199.71 L390.11 200.01 L390.13 200.30 L390.15 200.59 L390.16 200.87 L390.18 201.15 L390.20 201.42 L390.21 201.69 L390.23 201.95 L390.25 202.20 L390.26 202.45 L390.28 202.69 L390.30 202.93 L390.31 203.16 L390.33 203.38 L390.35 203.60 L390.36 203.81 L390.38 204.01 L390.40 204.20 L390.41 204.39 L390.43 204.57 L390.45 204.74 L390.46 204.90 L390.48 205.06 L390.50 205.21 L390.51 205.35 L390.53 205.48 L390.55 205.60 L390.56 205.72 L390.58 205.82 L390.60 205.92 L390.61 206.01 L390.63 206.09 L390.65 206.17 L390.66 206.23 L390.68 206.29 L390.70 206.35 L390.72 206.39 L390.73 206.43 L390.75 206.47 L390.77 206.50 L390.78 206.52 L390.80 206.54 L390.82 206.56 L390.83 206.57 L390.85 206.58 L390.87 206.59 L390.88 206.59 L390.90 206.59 L390.92 206.60 L390.93 206.60 L390.95 206.60 L390.97 206.60 L390.98 206.60 L391.00 206.60 L391.02 206.60 L391.03 206.60 L391.05 206.60 L391.07 206.60 L391.08 206.60 L391.10 206.60 L391.12 206.60 L391.13 206.60 L391.15 206.60 L391.17 206.60 L391.18 206.60 L391.20 206.60" stroke="#0000ff" stroke-dasharray="6.3 2.64"/>
<path d="M57.5 206.6 L58.40 206.60 L59.40 206.60 L60.40 206.60 L61.41 206.60 L62.41 206.60 L63.41 206.60 L64.41 206.60 L65.41 206.60 L66.41 206.60 L67.42 206.60 L68.42 206.60 L69.42 206.60 L70.42 206.59 L71.42 206.58 L72.42 206.57 L73.43 206.54 L74.43 206.49 L75.43 206.43 L76.43 206.33 L77.43 206.21 L78.43 206.06 L79.44 205.87 L80.44 205.64 L81.44 205.37 L82.44 205.06 L83.44 204.70 L84.45 204.31 L85.45 203.87 L86.45 203.40 L87.45 202.89 L88.45 202.34 L89.45 201.75 L90.46 201.14 L91.46 200.49 L92.46 199.81 L93.46 199.11 L94.46 198.37 L95.46 197.62 L96.47 196.84 L97.47 196.04 L98.47 195.23 L99.47 194.39 L100.47 193.54 L101.47 192.68 L102.48 191.80 L103.48 190.91 L104.48 190.01 L105.48 189.10 L106.48 188.18 L107.49 187.25 L108.49 186.31 L109.49 185.37 L110.49 184.42 L111.49 183.47 L112.49 182.51 L113.50 181.54 L114.50 180.57 L115.50 179.60 L116.50 178.63 L117.50 177.65 L118.50 176.67 L119.51 175.68 L120.51 174.70 L121.51 173.71 L122.51 172.72 L123.51 171.73 L124.51 170.74 L125.52 169.75 L126.52 168.76 L127.52 167.76 L128.52 166.77 L129.52 165.78 L130.53 164.78 L131.53 163.79 L132.53 162.79 L133.53 161.80 L134.53 160.80 L135.53 159.81 L136.54 158.82 L137.54 157.82 L138.54 156.83 L139.54 155.83 L140.54 154.84 L141.54 153.85 L142.55 152.86 L143.55 151.87 L144.55 150.88 L145.55 149.89 L146.55 148.90 L147.55 147.91 L148.56 146.92 L149.56 145.93 L150.56 144.95 L151.56 143.96 L152.56 142.98 L153.57 141.99 L154.57 141.01 L155.57 140.03 L156.57 139.05 L157.57 138.07 L158.57 137.09 L159.58 136.11 L160.58 135.13 L161.58 134.16 L162.58 133.19 L163.58 132.21 L164.58 131.24 L165.59 130.27 L166.59 129.30 L167.59 128.34 L168.59 127.37 L169.59 126.41 L170.59 125.44 L171.60 124.48 L172.60 123.52 L173.60 122.56 L174.60 121.61 L175.60 120.65 L176.61 119.70 L177.61 118.75 L178.61 117.80 L179.61 116.85 L180.61 115.91 L181.61 114.97 L182.62 114.02 L183.62 113.09 L184.62 112.15 L185.62 111.21 L186.62 110.28 L187.62 109.35 L188.63 108.42 L189.63 107.50 L190.63 106.57 L191.63 105.65 L192.63 104.73 L193.63 103.81 L194.64 102.90 L195.64 101.99 L196.64 101.08 L197.64 100.17 L198.64 99.27 L199.65 98.37 L200.65 97.47 L201.65 96.57 L202.65 95.68 L203.65 94.79 L204.65 93.90 L205.66 93.02 L206.66 92.14 L207.66 91.26 L208.66 90.38 L209.66 89.51 L210.66 88.64 L211.67 87.78 L212.67 86.91 L213.67 86.05 L214.67 85.20 L215.67 84.35 L216.67 83.50 L217.68 82.65 L218.68 81.81 L219.68 80.97 L220.68 80.13 L221.68 79.30 L222.69 78.47 L223.69 77.64 L224.69 76.82 L225.69 76.00 L226.69 75.18 L227.69 74.37 L228.70 73.56 L229.70 72.76 L230.70 71.96 L231.70 71.16 L232.70 70.37 L233.70 69.58 L234.71 68.79 L235.71 68.01 L236.71 67.24 L237.71 66.46 L238.71 65.69 L239.71 64.93 L240.72 64.16 L241.72 63.41 L242.72 62.65 L243.72 61.90 L244.72 61.16 L245.73 60.41 L246.73 59.68 L247.73 58.94 L248.73 58.21 L249.73 57.49 L250.73 56.77 L251.74 56.05 L252.74 55.34 L253.74 54.63 L254.74 53.93 L255.74 53.23 L256.74 52.54 L257.75 51.85 L258.75 51.16 L259.75 50.48 L260.75 49.80 L261.75 49.13 L262.75 48.46 L263.76 47.80 L264.76 47.14 L265.76 46.49 L266.76 45.84 L267.76 45.20 L268.77 44.56 L269.77 43.93 L270.77 43.30 L271.77 42.68 L272.77 42.06 L273.77 41.45 L274.78 40.84 L275.78 40.24 L276.78 39.64 L277.78 39.05 L278.78 38.46 L279.78 37.88 L280.79 37.31 L281.79 36.74 L282.79 36.17 L283.79 35.62 L284.79 35.06 L285.79 34.52 L286.80 33.98 L287.80 33.45 L288.80 32.92 L289.80 32.40 L290.80 31.89 L291.81 31.38 L292.81 30.88 L293.81 30.39 L294.81 29.90 L295.81 29.42 L296.81 28.95 L297.82 28.49 L298.82 28.04 L299.82 27.59 L300.82 27.15 L301.82 26.72 L302.82 26.30 L303.83 25.89 L304.83 25.49 L305.83 25.09 L306.83 24.71 L307.83 24.33 L308.83 23.97 L309.84 23.62 L310.84 23.27 L311.84 22.94 L312.84 22.62 L313.84 22.31 L314.85 22.02 L315.85 21.74 L316.85 21.47 L317.85 21.21 L318.85 20.97 L319.85 20.74 L320.86 20.53 L321.86 20.33 L322.86 20.15 L323.86 19.99 L324.86 19.84 L325.86 19.71 L326.87 19.60 L327.87 19.51 L328.87 19.44 L329.87 19.39 L330.87 19.37 L331.87 19.36 L332.88 19.38 L333.88 19.43 L334.88 19.50 L335.88 19.59 L336.88 19.72 L337.89 19.88 L338.89 20.06 L339.89 20.28 L340.89 20.53 L341.89 20.82 L342.89 21.15 L343.90 21.51 L344.90 21.92 L345.90 22.37 L346.90 22.86 L347.90 23.40 L348.90 23.99 L349.91 24.64 L350.91 25.34 L351.91 26.10 L352.91 26.92 L353.91 27.80 L354.91 28.75 L355.92 29.78 L356.92 30.89 L357.92 32.08 L358.07 32.26 L358.22 32.45 L358.37 32.64 L358.52 32.83 L358.67 33.03 L358.82 33.22 L358.97 33.42 L359.12 33.62 L359.27 33.82 L359.43 34.03 L359.58 34.24 L359.73 34.44 L359.88 34.66 L360.03 34.87 L360.18 35.08 L360.33 35.30 L360.48 35.52 L360.63 35.75 L360.78 35.97 L360.93 36.20 L361.08 36.43 L361.23 36.66 L361.38 36.89 L361.53 37.13 L361.68 37.37 L361.83 37.61 L361.98 37.86 L362.13 38.10 L362.28 38.35 L362.44 38.61 L362.59 38.86 L362.74 39.12 L362.89 39.38 L363.04 39.64 L363.19 39.91 L363.34 40.18 L363.49 40.45 L363.64 40.72 L363.79 41.00 L363.94 41.28 L364.09 41.56 L364.24 41.85 L364.39 42.14 L364.54 42.43 L364.69 42.73 L364.84 43.02 L364.99 43.33 L365.14 43.63 L365.30 43.94 L365.45 44.25 L365.60 44.56 L365.75 44.88 L365.90 45.20 L366.05 45.53 L366.20 45.85 L366.35 46.19 L366.50 46.52 L366.65 46.86 L366.80 47.20 L366.95 47.55 L367.10 47.90 L367.25 48.25 L367.40 48.61 L367.55 48.97 L367.70 49.33 L367.85 49.70 L368.00 50.07 L368.15 50.45 L368.31 50.83 L368.46 51.21 L368.61 51.60 L368.76 51.99 L368.91 52.39 L369.06 52.79 L369.21 53.20 L369.36 53.61 L369.51 54.02 L369.66 54.44 L369.81 54.86 L369.96 55.29 L370.11 55.72 L370.26 56.16 L370.41 56.60 L370.56 57.05 L370.71 57.50 L370.86 57.96 L371.01 58.42 L371.17 58.89 L371.32 59.36 L371.47 59.84 L371.62 60.32 L371.77 60.81 L371.92 61.31 L372.07 61.81 L372.22 62.31 L372.37 62.82 L372.52 63.34 L372.67 63.86 L372.82 64.39 L372.97 64.92 L373.12 65.47 L373.27 66.01 L373.42 66.57 L373.57 67.13 L373.72 67.69 L373.87 68.27 L374.02 68.85 L374.18 69.43 L374.33 70.03 L374.48 70.63 L374.63 71.24 L374.78 71.85 L374.93 72.47 L375.08 73.10 L375.23 73.74 L375.38 74.39 L375.53 75.04 L375.68 75.70 L375.83 76.37 L375.98 77.05 L376.13 77.73 L376.28 78.43 L376.43 79.13 L376.58 79.84 L376.73 80.56 L376.88 81.29 L377.04 82.03 L377.19 82.78 L377.34 83.54 L377.49 84.30 L377.64 85.08 L377.79 85.87 L377.94 86.67 L378.09 87.48 L378.24 88.30 L378.39 89.13 L378.54 89.97 L378.69 90.82 L378.84 91.69 L378.99 92.56 L379.14 93.45 L379.29 94.35 L379.44 95.26 L379.59 96.19 L379.74 97.13 L379.89 98.08 L380.05 99.04 L380.20 100.02 L380.35 101.01 L380.50 102.02 L380.65 103.04 L380.80 104.08 L380.95 105.13 L381.10 106.20 L381.25 107.28 L381.40 108.38 L381.55 109.49 L381.70 110.63 L381.85 111.78 L382.00 112.94 L382.15 114.13 L382.30 115.33 L382.45 116.56 L382.60 117.80 L382.75 119.06 L382.91 120.34 L383.06 121.64 L383.21 122.97 L383.36 124.31 L383.51 125.68 L383.66 127.07 L383.81 128.49 L383.96 129.92 L384.11 131.38 L384.26 132.87 L384.41 134.38 L384.56 135.92 L384.71 137.48 L384.86 139.07 L385.01 140.69 L385.16 142.33 L385.31 144.01 L385.46 145.71 L385.61 147.44 L385.76 149.20 L385.92 150.99 L386.07 152.82 L386.22 154.67 L386.37 156.56 L386.52 158.47 L386.67 160.42 L386.82 162.40 L386.97 164.40 L387.12 166.44 L387.27 168.51 L387.42 170.60 L387.57 172.72 L387.72 174.86 L387.87 177.03 L387.89 177.27 L387.91 177.51 L387.92 177.75 L387.94 177.99 L387.96 178.24 L387.97 178.48 L387.99 178.72 L388.01 178.96 L388.02 179.21 L388.04 179.45 L388.06 179.69 L388.07 179.94 L388.09 180.18 L388.11 180.42 L388.12 180.67 L388.14 180.91 L388.16 181.15 L388.17 181.40 L388.19 181.64 L388.21 181.88 L388.22 182.13 L388.24 182.37 L388.26 182.62 L388.27 182.86 L388.29 183.10 L388.31 183.35 L388.32 183.59 L388.34 183.84 L388.36 184.08 L388.37 184.32 L388.39 184.57 L388.41 184.81 L388.42 185.06 L388.44 185.30 L388.46 185.54 L388.47 185.79 L388.49 186.03 L388.51 186.27 L388.52 186.52 L388.54 186.76 L388.56 187.00 L388.57 187.24 L388.59 187.49 L388.61 187.73 L388.62 187.97 L388.64 188.21 L388.66 188.45 L388.67 188.69 L388.69 188.93 L388.71 189.17 L388.72 189.41 L388.74 189.65 L388.76 189.89 L388.78 190.13 L388.79 190.37 L388.81 190.60 L388.83 190.84 L388.84 191.08 L388.86 191.31 L388.88 191.55 L388.89 191.78 L388.91 192.02 L388.93 192.25 L388.94 192.49 L388.96 192.72 L388.98 192.95 L388.99 193.18 L389.01 193.41 L389.03 193.64 L389.04 193.87 L389.06 194.10 L389.08 194.32 L389.09 194.55 L389.11 194.78 L389.13 195.00 L389.14 195.22 L389.16 195.44 L389.18 195.67 L389.19 195.89 L389.21 196.11 L389.23 196.32 L389.24 196.54 L389.26 196.76 L389.28 196.97 L389.29 197.18 L389.31 197.39 L389.33 197.60 L389.34 197.81 L389.36 198.02 L389.38 198.23 L389.39 198.43 L389.41 198.63 L389.43 198.83 L389.44 199.03 L389.46 199.23 L389.48 199.43 L389.49 199.62 L389.51 199.81 L389.53 200.00 L389.54 200.19 L389.56 200.38 L389.58 200.57 L389.59 200.75 L389.61 200.93 L389.63 201.11 L389.64 201.28 L389.66 201.46 L389.68 201.63 L389.69 201.80 L389.71 201.97 L389.73 202.13 L389.75 202.29 L389.76 202.45 L389.78 202.61 L389.80 202.76 L389.81 202.92 L389.83 203.06 L389.85 203.21 L389.86 203.35 L389.88 203.49 L389.90 203.63 L389.91 203.77 L389.93 203.90 L389.95 204.03 L389.96 204.15 L389.98 204.28 L390.00 204.39 L390.01 204.51 L390.03 204.62 L390.05 204.73 L390.06 204.84 L390.08 204.94 L390.10 205.04 L390.11 205.14 L390.13 205.23 L390.15 205.32 L390.16 205.41 L390.18 205.49 L390.20 205.57 L390.21 205.65 L390.23 205.72 L390.25 205.79 L390.26 205.86 L390.28 205.92 L390.30 205.98 L390.31 206.03 L390.33 206.09 L390.35 206.14 L390.36 206.18 L390.38 206.23 L390.40 206.27 L390.41 206.30 L390.43 206.34 L390.45 206.37 L390.46 206.40 L390.48 206.42 L390.50 206.45 L390.51 206.47 L390.53 206.49 L390.55 206.51 L390.56 206.52 L390.58 206.54 L390.60 206.55 L390.61 206.56 L390.63 206.57 L390.65 206.57 L390.66 206.58 L390.68 206.58 L390.70 206.59 L390.72 206.59 L390.73 206.59 L390.75 206.60 L390.77 206.60 L390.78 206.60 L390.80 206.60 L390.82 206.60 L390.83 206.60 L390.85 206.60 L390.87 206.60 L390.88 206.60 L390.90 206.60 L390.92 206.60 L390.93 206.60 L390.95 206.60 L390.97 206.60 L390.98 206.60 L391.00 206.60 L391.02 206.60 L391.03 206.60 L391.05 206.60 L391.07 206.60 L391.08 206.60 L391.10 206.60 L391.12 206.60 L391.13 206.60 L391.15 206.60 L391.17 206.60 L391.18 206.60 L391.20 206.60" stroke="#ff8000" stroke-dasharray="11.1 3.75 11.1 3.75 2.9 3.75"/>
<line x1="189" y1="135.75" x2="234" y2="135.75" stroke="#00ff00"/>
<line x1="189" y1="158.9" x2="232" y2="158.9" stroke="#ff0000" stroke-dasharray="2.9 2.6 6.5 2.45"/>
<line x1="189" y1="181.9" x2="234" y2="181.9" stroke="#0000ff" stroke-dasharray="6.3 2.7"/>
<line x1="189" y1="205.2" x2="234" y2="205.2" stroke="#ff8000" stroke-dasharray="11.5 4.55 11.5 4.55 3.9 4.3"/>
</g>
<g class="fr">
<rect x="51.5" y="3.5" width="347.0" height="214.0" fill="none" stroke="#666" stroke-width="0.6"/>
<line x1="58.60" y1="217.5" x2="58.60" y2="213.7"/>
<line x1="58.60" y1="3.5" x2="58.60" y2="7.3"/>
<line x1="75.24" y1="217.5" x2="75.24" y2="215.1"/>
<line x1="75.24" y1="3.5" x2="75.24" y2="5.9"/>
<line x1="91.88" y1="217.5" x2="91.88" y2="215.1"/>
<line x1="91.88" y1="3.5" x2="91.88" y2="5.9"/>
<line x1="108.52" y1="217.5" x2="108.52" y2="215.1"/>
<line x1="108.52" y1="3.5" x2="108.52" y2="5.9"/>
<line x1="125.16" y1="217.5" x2="125.16" y2="213.7"/>
<line x1="125.16" y1="3.5" x2="125.16" y2="7.3"/>
<line x1="141.80" y1="217.5" x2="141.80" y2="215.1"/>
<line x1="141.80" y1="3.5" x2="141.80" y2="5.9"/>
<line x1="158.44" y1="217.5" x2="158.44" y2="215.1"/>
<line x1="158.44" y1="3.5" x2="158.44" y2="5.9"/>
<line x1="175.08" y1="217.5" x2="175.08" y2="215.1"/>
<line x1="175.08" y1="3.5" x2="175.08" y2="5.9"/>
<line x1="191.72" y1="217.5" x2="191.72" y2="213.7"/>
<line x1="191.72" y1="3.5" x2="191.72" y2="7.3"/>
<line x1="208.36" y1="217.5" x2="208.36" y2="215.1"/>
<line x1="208.36" y1="3.5" x2="208.36" y2="5.9"/>
<line x1="225.00" y1="217.5" x2="225.00" y2="215.1"/>
<line x1="225.00" y1="3.5" x2="225.00" y2="5.9"/>
<line x1="241.64" y1="217.5" x2="241.64" y2="215.1"/>
<line x1="241.64" y1="3.5" x2="241.64" y2="5.9"/>
<line x1="258.28" y1="217.5" x2="258.28" y2="213.7"/>
<line x1="258.28" y1="3.5" x2="258.28" y2="7.3"/>
<line x1="274.92" y1="217.5" x2="274.92" y2="215.1"/>
<line x1="274.92" y1="3.5" x2="274.92" y2="5.9"/>
<line x1="291.56" y1="217.5" x2="291.56" y2="215.1"/>
<line x1="291.56" y1="3.5" x2="291.56" y2="5.9"/>
<line x1="308.20" y1="217.5" x2="308.20" y2="215.1"/>
<line x1="308.20" y1="3.5" x2="308.20" y2="5.9"/>
<line x1="324.84" y1="217.5" x2="324.84" y2="213.7"/>
<line x1="324.84" y1="3.5" x2="324.84" y2="7.3"/>
<line x1="341.48" y1="217.5" x2="341.48" y2="215.1"/>
<line x1="341.48" y1="3.5" x2="341.48" y2="5.9"/>
<line x1="358.12" y1="217.5" x2="358.12" y2="215.1"/>
<line x1="358.12" y1="3.5" x2="358.12" y2="5.9"/>
<line x1="374.76" y1="217.5" x2="374.76" y2="215.1"/>
<line x1="374.76" y1="3.5" x2="374.76" y2="5.9"/>
<line x1="391.40" y1="217.5" x2="391.40" y2="213.7"/>
<line x1="391.40" y1="3.5" x2="391.40" y2="7.3"/>
<line x1="51.5" y1="217.27" x2="54.1" y2="217.27"/>
<line x1="398.5" y1="217.27" x2="395.9" y2="217.27"/>
<line x1="51.5" y1="206.60" x2="56.0" y2="206.60"/>
<line x1="398.5" y1="206.60" x2="394.0" y2="206.60"/>
<line x1="51.5" y1="195.93" x2="54.1" y2="195.93"/>
<line x1="398.5" y1="195.93" x2="395.9" y2="195.93"/>
<line x1="51.5" y1="185.26" x2="54.1" y2="185.26"/>
<line x1="398.5" y1="185.26" x2="395.9" y2="185.26"/>
<line x1="51.5" y1="174.59" x2="54.1" y2="174.59"/>
<line x1="398.5" y1="174.59" x2="395.9" y2="174.59"/>
<line x1="51.5" y1="163.92" x2="54.1" y2="163.92"/>
<line x1="398.5" y1="163.92" x2="395.9" y2="163.92"/>
<line x1="51.5" y1="153.25" x2="56.0" y2="153.25"/>
<line x1="398.5" y1="153.25" x2="394.0" y2="153.25"/>
<line x1="51.5" y1="142.58" x2="54.1" y2="142.58"/>
<line x1="398.5" y1="142.58" x2="395.9" y2="142.58"/>
<line x1="51.5" y1="131.91" x2="54.1" y2="131.91"/>
<line x1="398.5" y1="131.91" x2="395.9" y2="131.91"/>
<line x1="51.5" y1="121.24" x2="54.1" y2="121.24"/>
<line x1="398.5" y1="121.24" x2="395.9" y2="121.24"/>
<line x1="51.5" y1="110.57" x2="54.1" y2="110.57"/>
<line x1="398.5" y1="110.57" x2="395.9" y2="110.57"/>
<line x1="51.5" y1="99.90" x2="56.0" y2="99.90"/>
<line x1="398.5" y1="99.90" x2="394.0" y2="99.90"/>
<line x1="51.5" y1="89.23" x2="54.1" y2="89.23"/>
<line x1="398.5" y1="89.23" x2="395.9" y2="89.23"/>
<line x1="51.5" y1="78.56" x2="54.1" y2="78.56"/>
<line x1="398.5" y1="78.56" x2="395.9" y2="78.56"/>
<line x1="51.5" y1="67.89" x2="54.1" y2="67.89"/>
<line x1="398.5" y1="67.89" x2="395.9" y2="67.89"/>
<line x1="51.5" y1="57.22" x2="54.1" y2="57.22"/>
<line x1="398.5" y1="57.22" x2="395.9" y2="57.22"/>
<line x1="51.5" y1="46.55" x2="56.0" y2="46.55"/>
<line x1="398.5" y1="46.55" x2="394.0" y2="46.55"/>
<line x1="51.5" y1="35.88" x2="54.1" y2="35.88"/>
<line x1="398.5" y1="35.88" x2="395.9" y2="35.88"/>
<line x1="51.5" y1="25.21" x2="54.1" y2="25.21"/>
<line x1="398.5" y1="25.21" x2="395.9" y2="25.21"/>
<line x1="51.5" y1="14.54" x2="54.1" y2="14.54"/>
<line x1="398.5" y1="14.54" x2="395.9" y2="14.54"/>
<line x1="51.5" y1="3.87" x2="54.1" y2="3.87"/>
<line x1="398.5" y1="3.87" x2="395.9" y2="3.87"/>
</g>
<g class="tk">
<text x="58.60" y="235.1" text-anchor="middle">0.0</text>
<text x="125.16" y="235.1" text-anchor="middle">0.2</text>
<text x="191.72" y="235.1" text-anchor="middle">0.4</text>
<text x="258.28" y="235.1" text-anchor="middle">0.6</text>
<text x="324.84" y="235.1" text-anchor="middle">0.8</text>
<text x="391.40" y="235.1" text-anchor="middle">1.0</text>
<text x="48.6" y="211.90" text-anchor="end">0.0</text>
<text x="48.6" y="158.55" text-anchor="end">0.5</text>
<text x="48.6" y="105.20" text-anchor="end">1.0</text>
<text x="48.6" y="51.85" text-anchor="end">1.5</text>
</g>
<text x="241.6" y="139.7" class="lg"><tspan class="rho">ρ</tspan><tspan class="sub i" dy="1.6" dx="0.2">B</tspan><tspan class="sl" dy="-1.8" dx="0.5">/</tspan><tspan class="rho" dy="0.2" dx="0.6">ρ</tspan><tspan class="sub" dy="1.6" dx="0.1">0</tspan><tspan class="mn" dy="-1.6" dx="0.1">=0, T=0 GeV</tspan></text>
<text x="241.6" y="162.8" class="lg"><tspan class="rho">ρ</tspan><tspan class="sub i" dy="1.6" dx="0.2">B</tspan><tspan class="sl" dy="-1.8" dx="0.5">/</tspan><tspan class="rho" dy="0.2" dx="0.6">ρ</tspan><tspan class="sub" dy="1.6" dx="0.1">0</tspan><tspan class="mn" dy="-1.6" dx="0.1">=0, T=0.1 GeV</tspan></text>
<text x="241.6" y="185.8" class="lg"><tspan class="rho">ρ</tspan><tspan class="sub i" dy="1.6" dx="0.2">B</tspan><tspan class="sl" dy="-1.8" dx="0.5">/</tspan><tspan class="rho" dy="0.2" dx="0.6">ρ</tspan><tspan class="sub" dy="1.6" dx="0.1">0</tspan><tspan class="mn" dy="-1.6" dx="0.1">=3, T=0 GeV</tspan></text>
<text x="241.6" y="209.1" class="lg"><tspan class="rho">ρ</tspan><tspan class="sub i" dy="1.6" dx="0.2">B</tspan><tspan class="sl" dy="-1.8" dx="0.5">/</tspan><tspan class="rho" dy="0.2" dx="0.6">ρ</tspan><tspan class="sub" dy="1.6" dx="0.1">0</tspan><tspan class="mn" dy="-1.6" dx="0.1">=3, T=0.1 GeV</tspan></text>
<text class="ax" x="225.2" y="262.6" text-anchor="middle">x</text>
<g transform="translate(16.8,125.9) rotate(-90)">
<text class="ax" x="0" y="0"><tspan class="bi" style="stroke:#000;stroke-width:0.3">f</tspan><tspan style="font-size:11.4px;font-weight:bold;font-style:italic" dy="3.2" dx="0.4">s</tspan><tspan dy="-3.2" dx="0.5">(</tspan><tspan dx="0.3">x</tspan><tspan dx="0.3">)</tspan></text>
</g>
</svg>
</body></html>
